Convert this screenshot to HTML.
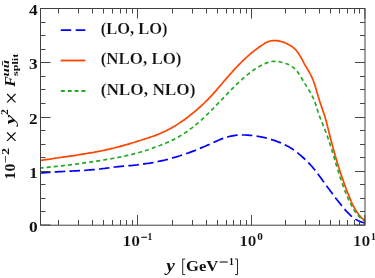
<!DOCTYPE html>
<html><head><meta charset="utf-8">
<style>
html,body{margin:0;padding:0;background:#fff;}
body{width:375px;height:278px;overflow:hidden;font-family:"Liberation Serif",serif;}
svg{display:block}
text{font-family:"Liberation Serif",serif;font-weight:bold;fill:#111;}
</style></head><body>
<svg width="375" height="278" viewBox="0 0 375 278">
<rect width="375" height="278" fill="#fff"/>
<defs><clipPath id="c"><rect x="40.5" y="8.5" width="324.5" height="216.5"/></clipPath></defs>
<g clip-path="url(#c)" fill="none" stroke-width="1.7">
<path d="M40.5 173.1L41.9 173.0L43.3 172.8L44.7 172.7L46.1 172.6L47.5 172.5L48.9 172.4L50.3 172.3L51.7 172.2L53.1 172.1L54.5 172.0L55.9 171.9L57.4 171.8L58.8 171.7L60.2 171.7L61.6 171.6L63.0 171.5L64.4 171.4L65.8 171.4L67.2 171.3L68.6 171.2L70.0 171.1L71.4 171.1L72.8 171.0L74.3 170.9L75.7 170.8L77.1 170.8L78.5 170.7L79.9 170.6L81.3 170.5L82.7 170.4L84.1 170.3L85.5 170.3L86.9 170.2L88.3 170.0L89.7 169.9L91.1 169.8L92.5 169.7L93.9 169.6L95.3 169.5L96.7 169.3L98.1 169.2L99.5 169.0L100.9 168.9L102.3 168.7L103.7 168.5L105.1 168.4L106.5 168.2L107.9 168.0L109.3 167.8L110.7 167.6L112.1 167.4L113.5 167.2L114.9 167.0L116.3 166.9L117.7 166.7L119.1 166.6L120.5 166.4L121.9 166.3L123.3 166.2L124.7 166.1L126.1 166.0L127.5 165.8L128.9 165.7L130.3 165.6L131.7 165.5L133.1 165.3L134.5 165.2L135.9 165.0L137.3 164.9L138.7 164.7L140.1 164.5L141.5 164.3L142.9 164.1L144.3 163.9L145.7 163.7L147.1 163.5L148.5 163.3L149.9 163.1L151.3 162.8L152.7 162.6L154.0 162.3L155.4 162.1L156.8 161.8L158.2 161.5L159.6 161.2L160.9 160.9L162.3 160.6L163.7 160.3L165.1 160.0L166.4 159.6L167.8 159.3L169.2 158.9L170.5 158.5L171.9 158.2L173.2 157.8L174.6 157.4L175.9 157.0L177.3 156.6L178.6 156.2L180.0 155.8L181.3 155.3L182.6 154.9L184.0 154.4L185.3 154.0L186.6 153.5L188.0 153.0L189.3 152.6L190.6 152.1L191.9 151.6L193.2 151.1L194.6 150.6L195.9 150.1L197.2 149.5L198.5 149.0L199.8 148.5L201.1 147.9L202.4 147.4L203.7 146.8L205.0 146.3L206.3 145.7L207.6 145.1L208.9 144.6L210.2 144.0L211.5 143.4L212.7 142.8L214.0 142.2L215.3 141.6L216.6 141.1L217.9 140.5L219.2 140.0L220.5 139.4L221.8 138.9L223.1 138.4L224.4 138.0L225.7 137.5L227.1 137.1L228.4 136.7L229.8 136.4L231.1 136.1L232.5 135.8L233.9 135.6L235.3 135.4L236.7 135.2L238.1 135.1L239.5 135.0L240.9 135.0L242.4 135.0L243.8 135.0L245.2 135.0L246.6 135.1L248.1 135.2L249.5 135.3L250.9 135.4L252.3 135.5L253.7 135.7L255.1 135.9L256.5 136.1L257.8 136.3L259.2 136.5L260.6 136.8L262.0 137.1L263.3 137.4L264.7 137.7L266.1 138.0L267.4 138.4L268.8 138.8L270.1 139.2L271.5 139.6L272.8 140.0L274.2 140.4L275.5 140.9L276.8 141.4L278.2 141.9L279.5 142.4L280.8 142.9L282.1 143.5L283.4 144.1L284.7 144.7L285.9 145.3L287.2 146.0L288.4 146.6L289.6 147.3L290.8 148.1L292.0 148.8L293.2 149.6L294.3 150.4L295.4 151.2L296.5 152.1L297.7 152.9L298.7 153.8L299.8 154.7L300.9 155.6L302.0 156.6L303.0 157.5L304.1 158.5L305.1 159.4L306.1 160.4L307.1 161.4L308.1 162.4L309.1 163.4L310.1 164.4L311.0 165.5L312.0 166.5L312.9 167.6L313.8 168.7L314.7 169.7L315.6 170.8L316.4 171.9L317.3 173.0L318.1 174.2L318.9 175.3L319.7 176.4L320.6 177.6L321.4 178.7L322.2 179.8L323.0 181.0L323.9 182.1L324.7 183.3L325.5 184.4L326.4 185.5L327.2 186.7L328.0 187.8L328.9 188.9L329.7 190.1L330.5 191.2L331.4 192.3L332.2 193.5L333.1 194.6L333.9 195.7L334.8 196.8L335.6 198.0L336.5 199.1L337.3 200.2L338.2 201.3L339.1 202.4L340.0 203.5L340.9 204.6L341.7 205.7L342.6 206.8L343.5 207.9L344.5 209.0L345.4 210.1L346.3 211.2L347.3 212.2L348.3 213.2L349.3 214.2L350.3 215.2L351.3 216.1L352.4 217.0L353.5 217.8L354.6 218.6L355.8 219.4L357.0 220.1L358.2 220.7L359.5 221.3L360.8 221.9L362.2 222.3L363.6 222.7L365.0 223.0" stroke="#0000ff" stroke-dasharray="10.6 4.2" stroke-dashoffset="0.6"/>
<path d="M40.5 160.5L42.3 160.2L44.2 159.9L46.0 159.6L47.9 159.3L49.7 159.1L51.5 158.8L53.4 158.5L55.2 158.2L57.1 158.0L58.9 157.7L60.8 157.5L62.6 157.2L64.4 156.9L66.3 156.7L68.1 156.4L70.0 156.1L71.8 155.8L73.7 155.6L75.5 155.3L77.4 155.0L79.2 154.7L81.0 154.4L82.9 154.1L84.7 153.8L86.6 153.5L88.4 153.2L90.2 152.9L92.1 152.6L93.9 152.3L95.7 151.9L97.6 151.6L99.4 151.2L101.2 150.9L103.0 150.5L104.9 150.1L106.7 149.7L108.5 149.3L110.3 148.9L112.1 148.4L113.9 148.0L115.7 147.5L117.5 147.1L119.3 146.6L121.1 146.1L122.9 145.6L124.7 145.1L126.5 144.6L128.3 144.1L130.1 143.6L131.9 143.0L133.7 142.5L135.5 142.0L137.2 141.4L139.0 140.8L140.8 140.3L142.6 139.7L144.3 139.1L146.1 138.5L147.9 138.0L149.6 137.4L151.4 136.8L153.1 136.2L154.9 135.6L156.6 134.9L158.4 134.2L160.1 133.5L161.8 132.8L163.5 132.0L165.2 131.2L166.8 130.4L168.5 129.6L170.1 128.7L171.8 127.8L173.4 126.8L175.0 125.9L176.6 124.9L178.1 123.9L179.7 122.9L181.2 121.8L182.8 120.8L184.3 119.7L185.8 118.6L187.3 117.5L188.8 116.3L190.2 115.2L191.7 114.0L193.1 112.9L194.6 111.7L196.0 110.5L197.4 109.3L198.8 108.0L200.2 106.8L201.6 105.6L202.9 104.3L204.3 103.0L205.6 101.7L206.9 100.4L208.2 99.1L209.5 97.7L210.8 96.4L212.1 95.0L213.3 93.6L214.6 92.2L215.8 90.9L217.0 89.4L218.2 88.0L219.4 86.6L220.7 85.2L221.9 83.8L223.1 82.3L224.3 80.9L225.5 79.5L226.7 78.1L228.0 76.7L229.2 75.3L230.4 73.9L231.7 72.5L232.9 71.1L234.2 69.7L235.4 68.3L236.7 67.0L238.0 65.6L239.3 64.3L240.6 63.0L241.9 61.7L243.2 60.4L244.6 59.1L245.9 57.8L247.3 56.6L248.7 55.3L250.1 54.1L251.5 52.9L252.9 51.8L254.4 50.6L255.9 49.5L257.4 48.4L258.9 47.3L260.4 46.2L262.0 45.1L263.6 44.1L265.2 43.1L266.8 42.3L268.5 41.6L270.3 41.0L272.1 40.7L274.0 40.6L275.8 40.6L277.7 40.7L279.5 41.1L281.3 41.5L283.1 42.1L284.9 42.8L286.6 43.6L288.3 44.4L289.9 45.3L291.5 46.2L293.0 47.3L294.4 48.5L295.7 49.8L296.9 51.2L298.0 52.7L299.1 54.3L300.0 55.9L301.0 57.5L301.9 59.2L302.8 60.8L303.6 62.4L304.5 64.1L305.4 65.7L306.4 67.3L307.3 68.9L308.3 70.5L309.2 72.1L310.1 73.8L311.0 75.4L311.8 77.1L312.6 78.8L313.3 80.5L313.9 82.2L314.5 84.0L315.1 85.8L315.6 87.5L316.1 89.3L316.6 91.1L317.2 92.9L317.7 94.7L318.2 96.5L318.8 98.3L319.3 100.1L319.9 101.9L320.5 103.6L321.1 105.4L321.7 107.1L322.3 108.9L322.9 110.7L323.5 112.4L324.1 114.2L324.7 116.0L325.2 117.8L325.7 119.5L326.2 121.3L326.7 123.1L327.2 124.9L327.6 126.8L328.1 128.6L328.5 130.4L329.0 132.2L329.4 134.0L329.9 135.8L330.3 137.6L330.8 139.4L331.3 141.2L331.8 143.0L332.2 144.8L332.7 146.6L333.2 148.4L333.7 150.2L334.2 152.0L334.7 153.8L335.2 155.6L335.8 157.4L336.3 159.2L336.8 160.9L337.3 162.7L337.9 164.5L338.4 166.3L339.0 168.0L339.6 169.8L340.1 171.6L340.7 173.4L341.3 175.1L341.9 176.9L342.5 178.6L343.1 180.4L343.7 182.2L344.3 183.9L345.0 185.7L345.6 187.4L346.3 189.2L346.9 190.9L347.6 192.7L348.3 194.4L349.0 196.1L349.7 197.9L350.4 199.6L351.1 201.3L351.9 203.0L352.7 204.7L353.6 206.4L354.4 208.0L355.4 209.6L356.3 211.2L357.4 212.7L358.5 214.2L359.6 215.6L360.9 217.0L362.2 218.4L363.5 219.7L365.0 220.9" stroke="#ff4500"/>
<path d="M40.5 168.0L42.3 167.8L44.0 167.6L45.8 167.5L47.5 167.3L49.3 167.1L51.1 166.9L52.8 166.8L54.6 166.6L56.3 166.4L58.1 166.2L59.9 166.0L61.6 165.8L63.4 165.6L65.1 165.4L66.9 165.2L68.6 165.0L70.4 164.8L72.2 164.6L73.9 164.3L75.7 164.1L77.4 163.9L79.2 163.6L80.9 163.4L82.7 163.2L84.4 162.9L86.2 162.7L87.9 162.4L89.7 162.2L91.4 161.9L93.2 161.7L94.9 161.4L96.7 161.1L98.4 160.8L100.2 160.6L101.9 160.3L103.6 160.0L105.4 159.7L107.1 159.4L108.9 159.1L110.6 158.8L112.4 158.5L114.1 158.2L115.8 157.8L117.6 157.5L119.3 157.2L121.1 156.8L122.8 156.5L124.5 156.1L126.3 155.7L128.0 155.3L129.7 154.9L131.4 154.5L133.1 154.1L134.8 153.7L136.6 153.2L138.3 152.8L140.0 152.3L141.7 151.8L143.3 151.3L145.0 150.8L146.7 150.2L148.4 149.7L150.0 149.1L151.7 148.5L153.4 147.9L155.0 147.3L156.7 146.7L158.4 146.1L160.0 145.5L161.7 144.8L163.3 144.2L165.0 143.5L166.6 142.8L168.2 142.1L169.8 141.4L171.4 140.6L173.0 139.9L174.6 139.1L176.2 138.3L177.7 137.4L179.2 136.5L180.8 135.6L182.3 134.7L183.7 133.7L185.2 132.8L186.7 131.8L188.1 130.7L189.5 129.7L190.9 128.6L192.3 127.6L193.7 126.5L195.1 125.4L196.5 124.2L197.8 123.1L199.1 121.9L200.5 120.7L201.8 119.6L203.1 118.4L204.4 117.2L205.7 115.9L206.9 114.7L208.2 113.5L209.5 112.2L210.7 111.0L212.0 109.7L213.2 108.5L214.4 107.2L215.7 105.9L216.9 104.7L218.1 103.4L219.3 102.1L220.6 100.8L221.8 99.6L223.0 98.3L224.2 97.0L225.4 95.7L226.7 94.5L227.9 93.2L229.1 91.9L230.4 90.7L231.6 89.4L232.9 88.1L234.1 86.9L235.4 85.7L236.6 84.4L237.9 83.2L239.2 82.0L240.5 80.8L241.8 79.6L243.1 78.4L244.5 77.2L245.8 76.0L247.2 74.9L248.6 73.8L250.0 72.7L251.4 71.6L252.8 70.6L254.3 69.5L255.7 68.6L257.2 67.6L258.7 66.7L260.3 65.9L261.8 65.1L263.4 64.3L265.0 63.6L266.7 62.9L268.4 62.4L270.1 61.9L271.8 61.5L273.6 61.3L275.4 61.3L277.1 61.4L278.9 61.7L280.6 62.0L282.3 62.5L284.1 62.9L285.7 63.5L287.4 64.0L289.0 64.7L290.6 65.6L292.0 66.6L293.5 67.6L294.8 68.8L296.0 70.0L297.2 71.4L298.2 72.8L299.2 74.2L300.2 75.7L301.1 77.2L302.0 78.8L302.9 80.3L303.8 81.8L304.7 83.4L305.7 84.9L306.6 86.4L307.6 87.9L308.5 89.4L309.4 90.9L310.3 92.4L311.2 93.9L312.0 95.5L312.8 97.0L313.5 98.7L314.2 100.3L314.8 101.9L315.4 103.6L316.0 105.3L316.5 107.0L317.0 108.7L317.6 110.4L318.1 112.1L318.7 113.7L319.3 115.4L319.9 117.1L320.6 118.7L321.2 120.4L321.9 122.0L322.5 123.6L323.2 125.3L323.8 126.9L324.5 128.6L325.1 130.2L325.8 131.9L326.4 133.5L327.0 135.2L327.6 136.8L328.1 138.5L328.7 140.2L329.3 141.9L329.8 143.6L330.3 145.2L330.9 146.9L331.4 148.6L331.9 150.3L332.4 152.0L332.9 153.7L333.5 155.4L334.0 157.1L334.5 158.8L335.0 160.5L335.5 162.2L336.0 163.9L336.5 165.6L337.0 167.3L337.5 169.0L338.1 170.7L338.6 172.3L339.1 174.0L339.7 175.7L340.2 177.4L340.8 179.1L341.3 180.8L341.9 182.4L342.5 184.1L343.1 185.8L343.7 187.4L344.3 189.1L344.9 190.7L345.6 192.4L346.2 194.0L346.9 195.6L347.6 197.3L348.3 198.9L349.1 200.5L349.8 202.1L350.6 203.7L351.4 205.3L352.2 206.8L353.1 208.4L354.0 209.9L354.9 211.4L355.9 212.8L357.0 214.2L358.2 215.5L359.4 216.8L360.6 218.0L362.0 219.2L363.5 220.2L365.0 221.2" stroke="#22aa22" stroke-dasharray="4.1 3.04" stroke-dashoffset="1"/>
</g>
<path d="M40.50 225.00h10M365.00 225.00h-10M40.50 211.50h5M365.00 211.50h-5M40.50 198.50h5M365.00 198.50h-5M40.50 184.50h5M365.00 184.50h-5M40.50 171.50h10M365.00 171.50h-10M40.50 157.50h5M365.00 157.50h-5M40.50 144.50h5M365.00 144.50h-5M40.50 130.50h5M365.00 130.50h-5M40.50 117.50h10M365.00 117.50h-10M40.50 103.50h5M365.00 103.50h-5M40.50 89.50h5M365.00 89.50h-5M40.50 76.50h5M365.00 76.50h-5M40.50 62.50h10M365.00 62.50h-10M40.50 49.50h5M365.00 49.50h-5M40.50 35.50h5M365.00 35.50h-5M40.50 22.50h5M365.00 22.50h-5M40.50 8.50h10M365.00 8.50h-10M58.50 225.00v-5M58.50 8.50v5M78.50 225.00v-5M78.50 8.50v5M92.50 225.00v-5M92.50 8.50v5M103.50 225.00v-5M103.50 8.50v5M112.50 225.00v-5M112.50 8.50v5M120.50 225.00v-5M120.50 8.50v5M126.50 225.00v-5M126.50 8.50v5M132.50 225.00v-5M132.50 8.50v5M137.50 225.00v-10M137.50 8.50v10M172.50 225.00v-5M172.50 8.50v5M192.50 225.00v-5M192.50 8.50v5M206.50 225.00v-5M206.50 8.50v5M217.50 225.00v-5M217.50 8.50v5M226.50 225.00v-5M226.50 8.50v5M233.50 225.00v-5M233.50 8.50v5M240.50 225.00v-5M240.50 8.50v5M246.50 225.00v-5M246.50 8.50v5M251.50 225.00v-10M251.50 8.50v10M285.50 225.00v-5M285.50 8.50v5M305.50 225.00v-5M305.50 8.50v5M319.50 225.00v-5M319.50 8.50v5M330.50 225.00v-5M330.50 8.50v5M339.50 225.00v-5M339.50 8.50v5M347.50 225.00v-5M347.50 8.50v5M354.50 225.00v-5M354.50 8.50v5M359.50 225.00v-5M359.50 8.50v5M364.90 225.00v-10M364.90 8.50v10" stroke="#484848" stroke-width="1" fill="none"/>
<rect x="40.5" y="8.5" width="324.5" height="216.7" fill="none" stroke="#404040" stroke-width="1"/>
<!-- legend -->
<g fill="none" stroke-width="1.8">
<path d="M60.8 30.1H85.3" stroke="#0000ff" stroke-dasharray="10.4 4.5"/>
<path d="M60.6 60.5H85.3" stroke="#ff4500"/>
<path d="M60.9 91H85.5" stroke="#22aa22" stroke-dasharray="3.9 2.95"/>
</g>
<g style="filter:grayscale(1)">
<g font-size="16" stroke="#fff" stroke-width="0.15">
<text id="l1" x="100.7" y="34.1" textLength="66.8" lengthAdjust="spacingAndGlyphs">(LO, LO)</text>
<text id="l2" x="100.7" y="64.3" textLength="80.8" lengthAdjust="spacingAndGlyphs">(NLO, LO)</text>
<text id="l3" x="100.7" y="94.8" textLength="94.8" lengthAdjust="spacingAndGlyphs">(NLO, NLO)</text>
</g>
<!-- y tick labels -->
<g font-size="14.8">
<text x="29.1" y="15.1" textLength="8.7" lengthAdjust="spacingAndGlyphs">4</text>
<text x="29.1" y="69.2" textLength="8.6" lengthAdjust="spacingAndGlyphs">3</text>
<text x="29.1" y="123.5" textLength="8.6" lengthAdjust="spacingAndGlyphs">2</text>
<text x="29.3" y="177.6" textLength="8.4" lengthAdjust="spacingAndGlyphs">1</text>
<text x="29.0" y="231.8" textLength="8.7" lengthAdjust="spacingAndGlyphs">0</text>
</g>
<!-- x tick labels -->
<g font-size="15.4" stroke="#fff" stroke-width="0.2">
<text x="122.5" y="245.6" textLength="17.5" lengthAdjust="spacingAndGlyphs">10</text>
<text x="239.2" y="245.6" textLength="17.3" lengthAdjust="spacingAndGlyphs">10</text>
<text x="352.8" y="245.7" textLength="17.5" lengthAdjust="spacingAndGlyphs">10</text>
</g>
<g font-size="10.8">
<text x="147.6" y="240" textLength="4.8" lengthAdjust="spacingAndGlyphs">1</text>
<text x="257.2" y="240.3" textLength="5.6" lengthAdjust="spacingAndGlyphs">0</text>
<text x="371" y="239.6" textLength="4.8" lengthAdjust="spacingAndGlyphs">1</text>
</g>
<path d="M141.3 237.3H147.1" stroke="#111" stroke-width="1.1" fill="none"/>
<!-- x label -->
<text x="166.3" y="270.7" font-size="15.8" font-style="italic" textLength="8.6" lengthAdjust="spacingAndGlyphs">y</text>
<text x="186" y="270.9" font-size="15.6" textLength="32.3" lengthAdjust="spacingAndGlyphs">GeV</text>
<text x="228.9" y="264.8" font-size="10.6" textLength="4.8" lengthAdjust="spacingAndGlyphs">1</text>
<path d="M219.7 262H227.7" stroke="#111" stroke-width="1.1" fill="none"/>
<path d="M185.2 259H182.7V274.6H185.2M235 259H237.5V274.6H235" stroke="#111" stroke-width="0.9" fill="none"/>
<!-- y label -->
<g transform="translate(15.1,179.4) rotate(-90)">
<text x="0" y="0" font-size="14.8" textLength="15.7" lengthAdjust="spacingAndGlyphs">10</text>
<text x="16.4" y="-6.4" font-size="10.5" textLength="15.1" lengthAdjust="spacingAndGlyphs">−2</text>
<path d="M38.5 -8l8.4 8.4M38.5 0.4l8.4 -8.4M77 -8l8.4 8.4M77 0.4l8.4 -8.4" stroke="#111" stroke-width="1.2" fill="none"/>
<text x="54.9" y="-0.2" font-size="15.5" font-style="italic" textLength="9.8" lengthAdjust="spacingAndGlyphs">y</text>
<text x="64.5" y="-7.2" font-size="10" textLength="5.8" lengthAdjust="spacingAndGlyphs">2</text>
<text x="92.7" y="0" font-size="15.6" font-style="italic" textLength="10.6" lengthAdjust="spacingAndGlyphs">F</text>
<text x="102.9" y="-6.5" font-size="10.2" font-style="italic" textLength="16.4" lengthAdjust="spacingAndGlyphs">uū</text>
<text x="103.4" y="2.9" font-size="8.2" textLength="22.3" lengthAdjust="spacingAndGlyphs">split</text>
</g>
</g>
</svg>
</body></html>
